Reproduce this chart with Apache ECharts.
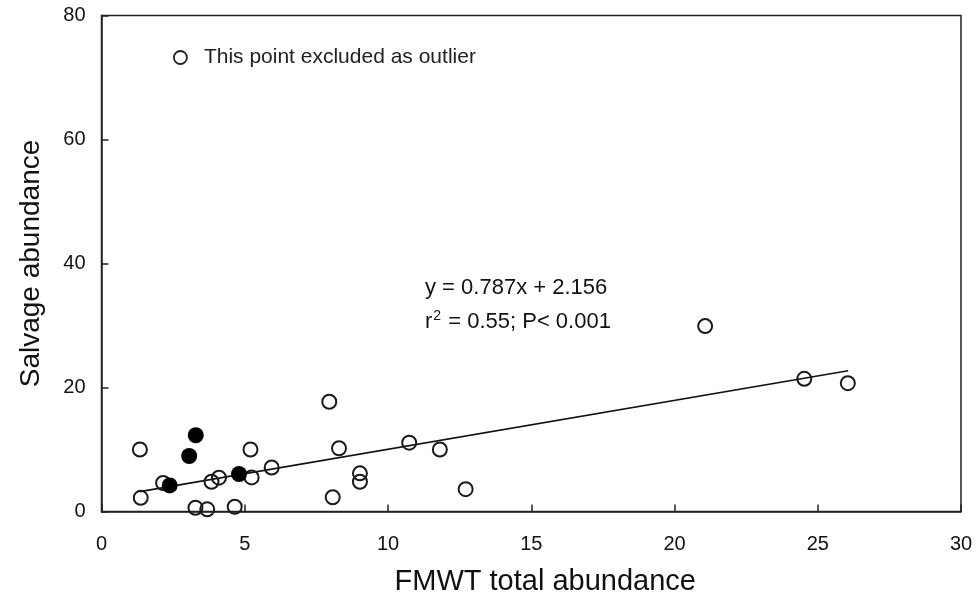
<!DOCTYPE html>
<html><head><meta charset="utf-8">
<script src="https://cdn.jsdelivr.net/npm/echarts@6/dist/echarts.min.js"></script>
<style>html,body{margin:0;padding:0;background:#fff}#c{width:978px;height:605px}</style>
</head><body><div id="c"></div>
<script>
// Open circles (x = FMWT total abundance, y = Salvage abundance)
const openX = [1.34, 1.37, 2.15, 3.28, 3.69, 3.84, 4.10, 4.65, 5.20, 5.24, 5.94, 7.95, 8.07, 8.29, 9.02, 9.02, 10.74, 11.81, 12.71, 21.07, 24.53, 26.05];
const openY = [10.0, 2.2, 4.6, 0.6, 0.35, 4.8, 5.45, 0.77, 10.0, 5.5, 7.1, 17.7, 2.3, 10.2, 6.15, 4.8, 11.1, 10.0, 3.6, 29.9, 21.4, 20.7];
// Filled circles
const filledX = [2.38, 3.06, 3.29, 4.80];
const filledY = [4.2, 8.95, 12.3, 6.05];
// Regression line end points (y = 0.787x + 2.156)
const fitX = [1.34, 26.06];
const fitY = [3.2, 22.7];
// Axis ticks
const xTicks = [0, 5, 10, 15, 20, 25, 30];
const yTicks = [0, 20, 40, 60, 80];
const legendName = 'This point excluded as outlier';
const eqLine1 = 'y = 0.787x + 2.156';
const eqLine2 = '{b|r}{s|2}{b| = 0.55; P< 0.001}';

const FONT = "'Liberation Sans', Arial, sans-serif";
const zip = (a, b) => a.map((v, i) => [v, b[i]]);

const chart = echarts.init(document.getElementById('c'), null, {renderer: 'canvas'});
chart.setOption({
  animation: false,
  backgroundColor: '#fff',
  grid: {left: 101.5, right: 17, top: 15.5, bottom: 93.5, show: true, borderColor: '#222', borderWidth: 1.5, backgroundColor: 'transparent'},
  legend: {
    data: [{name: legendName}],
    left: 168, top: 42,
    itemWidth: 13, itemHeight: 13,
    itemStyle: {color: 'rgba(0,0,0,0)', borderColor: '#222', borderWidth: 1.8, opacity: 1},
    textStyle: {fontFamily: FONT, fontSize: 21, color: '#222', padding: [0, 0, 0, 12]}
  },
  xAxis: {
    type: 'value', min: xTicks[0], max: xTicks[xTicks.length - 1], interval: 5,
    name: 'FMWT total abundance', nameLocation: 'middle', nameGap: 56,
    nameTextStyle: {fontFamily: FONT, fontSize: 29, color: '#111', padding: [0, 0, 0, 28]},
    axisLine: {lineStyle: {color: '#222', width: 1.5}},
    axisTick: {inside: true, length: 7, lineStyle: {color: '#222', width: 1.5}},
    axisLabel: {fontFamily: FONT, fontSize: 20, color: '#111', margin: 23},
    splitLine: {show: false}
  },
  yAxis: {
    type: 'value', min: yTicks[0], max: yTicks[yTicks.length - 1], interval: 20,
    name: 'Salvage abundance', nameLocation: 'middle', nameGap: 56,
    nameTextStyle: {fontFamily: FONT, fontSize: 28, color: '#111'},
    axisLine: {lineStyle: {color: '#222', width: 1.5}},
    axisTick: {inside: true, length: 7, lineStyle: {color: '#222', width: 1.5}},
    axisLabel: {fontFamily: FONT, fontSize: 20, color: '#111', margin: 16},
    splitLine: {show: false}
  },
  series: [
    {
      type: 'line', name: 'fit', data: zip(fitX, fitY), symbol: 'none',
      lineStyle: {color: '#111', width: 1.6}, z: 1, silent: true
    },
    {
      type: 'scatter', name: legendName, data: zip(openX, openY),
      symbol: 'circle', symbolSize: 14,
      itemStyle: {color: 'rgba(0,0,0,0)', borderColor: '#1a1a1a', borderWidth: 2, opacity: 1}, z: 2
    },
    {
      type: 'scatter', name: 'filled', data: zip(filledX, filledY),
      symbol: 'circle', symbolSize: 16,
      itemStyle: {color: '#000', borderColor: '#000', borderWidth: 0, opacity: 1}, z: 3
    }
  ],
  graphic: [
    {type: 'text', left: 425, top: 277, style: {text: eqLine1, font: '22px ' + FONT, fill: '#111'}},
    {type: 'text', left: 425, top: 309, style: {
      text: eqLine2, fill: '#111',
      rich: {
        b: {fontFamily: FONT, fontSize: 22, fill: '#111', color: '#111', verticalAlign: 'bottom'},
        s: {fontFamily: FONT, fontSize: 14, fill: '#111', color: '#111', verticalAlign: 'top', padding: [0, 1, 10, 1]}
      }
    }}
  ]
});
</script></body></html>
